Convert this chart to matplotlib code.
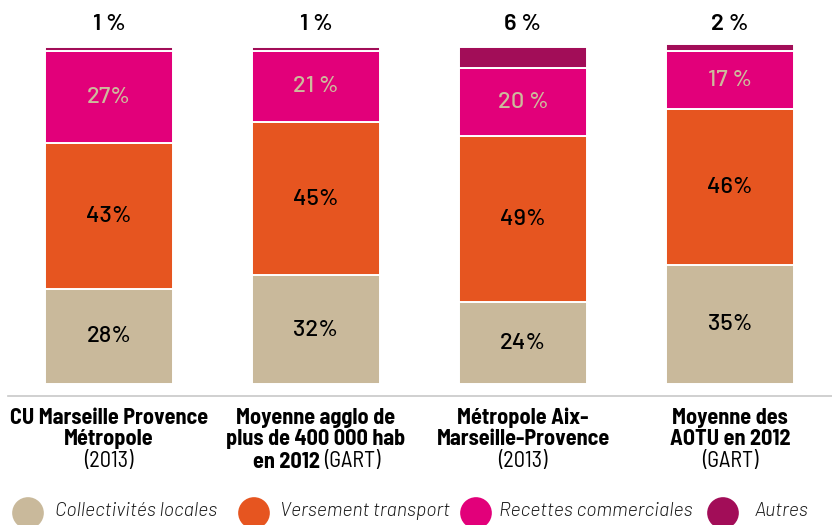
import matplotlib
matplotlib.use("Agg")
import matplotlib.pyplot as plt
from matplotlib.font_manager import fontManager

# Funding structure of urban transport networks (shares in %)
categories = [
    "CU Marseille Provence Métropole (2013)",
    "Moyenne agglo de plus de 400 000 hab en 2012 (GART)",
    "Métropole Aix-Marseille-Provence (2013)",
    "Moyenne des AOTU en 2012 (GART)",
]
collectivites = [28, 32, 24, 35]
versement = [43, 45, 49, 46]
recettes = [27, 21, 20, 17]
autres = [1, 1, 6, 2]

collectivites_labels = ["28%", "32%", "24%", "35%"]
versement_labels = ["43%", "45%", "49%", "46%"]
recettes_labels = ["27%", "21 %", "20 %", "17 %"]
autres_labels = ["1 %", "1 %", "6 %", "2 %"]

series_names = ["Collectivités locales", "Versement transport",
                "Recettes commerciales", "Autres"]
colors = ["#c9b99b", "#e65520", "#e2007a", "#a20d58"]

installed = {f.name for f in fontManager.ttflist}
narrow = "Barlow Semi Condensed" if "Barlow Semi Condensed" in installed else "DejaVu Sans"
numfont = "Barlow" if "Barlow" in installed else "DejaVu Sans"
legfont = "Barlow" if "Barlow" in installed else "DejaVu Sans"

W, H = 832, 525
fig = plt.figure(figsize=(W / 100, H / 100), dpi=100)

# bars area: value 0 at y=384 px, 100 at y=44 px; bar centres 207 px apart
px_per_unit = 207.0
x0 = 109.0
ax = fig.add_axes([0, (H - 384) / H, 1, 340 / H])
ax.set_xlim(-x0 / px_per_unit, 3 + (W - 730) / px_per_unit)
ax.set_ylim(0, 100)
ax.axis("off")

xs = list(range(len(categories)))
width = 128 / px_per_unit
bottom = [0] * 4
for vals, col in zip([collectivites, versement, recettes, autres], colors):
    ax.bar(xs, vals, width=width, bottom=bottom, color=col,
           edgecolor="white", linewidth=1.4)
    bottom = [b + v for b, v in zip(bottom, vals)]

# value labels inside segments
num_fs = 17
for i in xs:
    b0 = collectivites[i]
    b1 = b0 + versement[i]
    ax.text(i, b0 / 2, collectivites_labels[i], ha="center", va="center",
            fontsize=num_fs, family=numfont, fontweight=500, color="black")
    ax.text(i, b0 + versement[i] / 2, versement_labels[i], ha="center",
            va="center", fontsize=num_fs, family=numfont, fontweight=500,
            color="black")
    ax.text(i, b1 + recettes[i] / 2, recettes_labels[i], ha="center",
            va="center", fontsize=num_fs, family=numfont, fontweight=500,
            color="#cdbb9c")
    ax.text(i, 106.0, autres_labels[i], ha="center", va="center",
            fontsize=num_fs, family=numfont, fontweight=600, color="black",
            clip_on=False)

# baseline rule under the bars
ax.plot([8 / W, 1], [-0.035, -0.035], transform=ax.transAxes,
        color="#c8c8c8", lw=1.2, clip_on=False)

# category labels (bold name, regular source)
lab_fs = 16
y_line = [-10.0, -16.3, -22.9]
label_lines = [
    [("CU Marseille Provence", "bold"), ("Métropole", "bold"), ("(2013)", "normal")],
    [("Moyenne agglo de", "bold"), ("plus de 400 000 hab", "bold"), None],
    [("Métropole Aix-", "bold"), ("Marseille-Provence", "bold"), ("(2013)", "normal")],
    [("Moyenne des", "bold"), ("AOTU en 2012", "bold"), ("(GART)", "normal")],
]
for i, lines in enumerate(label_lines):
    for j, item in enumerate(lines):
        if item is None:
            continue
        txt, wt = item
        ax.text(i, y_line[j], txt, ha="center", va="center", fontsize=lab_fs,
                family=narrow, fontweight=wt, color="black", clip_on=False)
# mixed-weight third line of the second label
ax.annotate("en 2012", xy=(1, y_line[2]), xytext=(3, 0),
            textcoords="offset points", ha="right", va="center",
            fontsize=lab_fs, family=narrow, fontweight="bold",
            annotation_clip=False)
ax.annotate("(GART)", xy=(1, y_line[2]), xytext=(6, 0),
            textcoords="offset points", ha="left", va="center",
            fontsize=lab_fs, family=narrow, fontweight="normal",
            annotation_clip=False)

# legend row along the bottom edge
lg = fig.add_axes([0, 0, 1, 1])
lg.set_xlim(0, W)
lg.set_ylim(H, 0)
lg.axis("off")
legend_x = [28, 254, 476, 723]
text_x = [55, 280, 499, 755]
for cx, tx, name, col in zip(legend_x, text_x, series_names, colors):
    lg.scatter([cx], [513], s=520, color=col, edgecolors="none")
    lg.text(tx, 511, name, ha="left", va="center", fontsize=14,
            family=legfont, style="italic", fontweight=300, color="#1a1a1a")

fig.savefig("out.png", dpi=100)
